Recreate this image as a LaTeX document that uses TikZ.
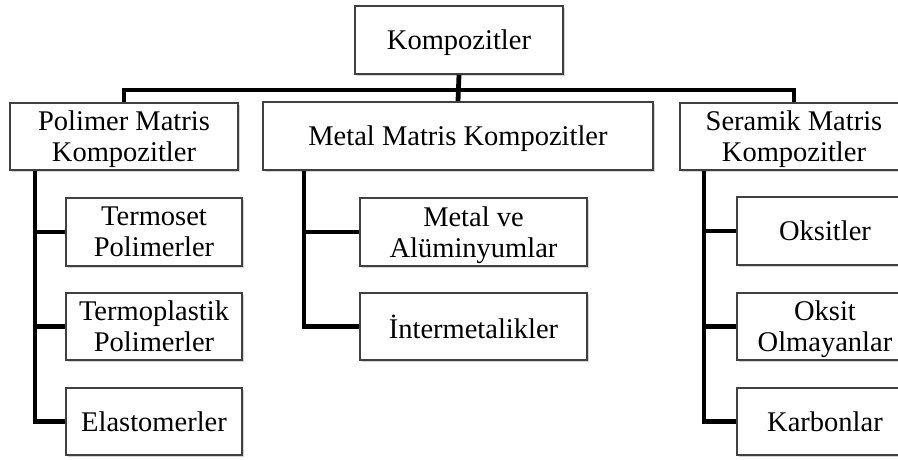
\documentclass[tikz,border=0pt]{standalone}
\usepackage{fontspec}
\setmainfont{Liberation Serif}
\usetikzlibrary{shadows}
\begin{document}
\begin{tikzpicture}[x=1pt,y=-1pt,
	box/.style={draw=black!75, line width=2.0, fill=white, align=center, inner sep=0pt, text depth=0pt, font=\fontsize{28.5}{31}\selectfont, drop shadow={shadow xshift=2pt,shadow yshift=-2pt,opacity=0.35}},
	link/.style={line width=4.8}]
	\useasboundingbox (0,0) rectangle (898,459);
	\node [box, minimum width=208, minimum height=68] (komp) at (459,40) {Kompozitler};
	\node [box, minimum width=228, minimum height=67] (pmk) at (124,136.5) {Polimer Matris\\Kompozitler};
	\node [box, minimum width=390, minimum height=68] (mmk) at (458,136) {Metal Matris Kompozitler};
	\node [box, minimum width=228, minimum height=67] (smk) at (794,136.5) {Seramik Matris\\Kompozitler};
	\node [box, minimum width=176, minimum height=68] (ter) at (154,232) {Termoset\\Polimerler};
	\node [box, minimum width=176, minimum height=67] (tpl) at (154,326.5) {Termoplastik\\Polimerler};
	\node [box, minimum width=176, minimum height=67] (ela) at (154,421.5) {Elastomerler};
	\node [box, minimum width=227, minimum height=68] (mal) at (473.5,232) {Metal ve\\Alüminyumlar};
	\node [box, minimum width=227, minimum height=67] (int) at (473.5,326.5) {İntermetalikler};
	\node [box, minimum width=176, minimum height=68] (oks) at (825,231) {Oksitler};
	\node [box, minimum width=176, minimum height=67] (oko) at (825,326.5) {Oksit\\Olmayanlar};
	\node [box, minimum width=176, minimum height=67] (kar) at (825,421.5) {Karbonlar};
	\coordinate (bus) at (0,90);
	\draw [link] (komp.south) -- (mmk.north);
	\draw [link] (pmk.north) -- (pmk.north |- bus) -- (smk.north |- bus) -- (smk.north);
	\draw [link] ([xshift=26]pmk.south west) |- (ter.west);
	\draw [link] ([xshift=26]pmk.south west) |- (tpl.west);
	\draw [link] ([xshift=26]pmk.south west) |- (ela.west);
	\draw [link] ([xshift=42]mmk.south west) |- (mal.west);
	\draw [link] ([xshift=42]mmk.south west) |- (int.west);
	\draw [link] ([xshift=25]smk.south west) |- (oks.west);
	\draw [link] ([xshift=25]smk.south west) |- (oko.west);
	\draw [link] ([xshift=25]smk.south west) |- (kar.west);
\end{tikzpicture}
\end{document}
